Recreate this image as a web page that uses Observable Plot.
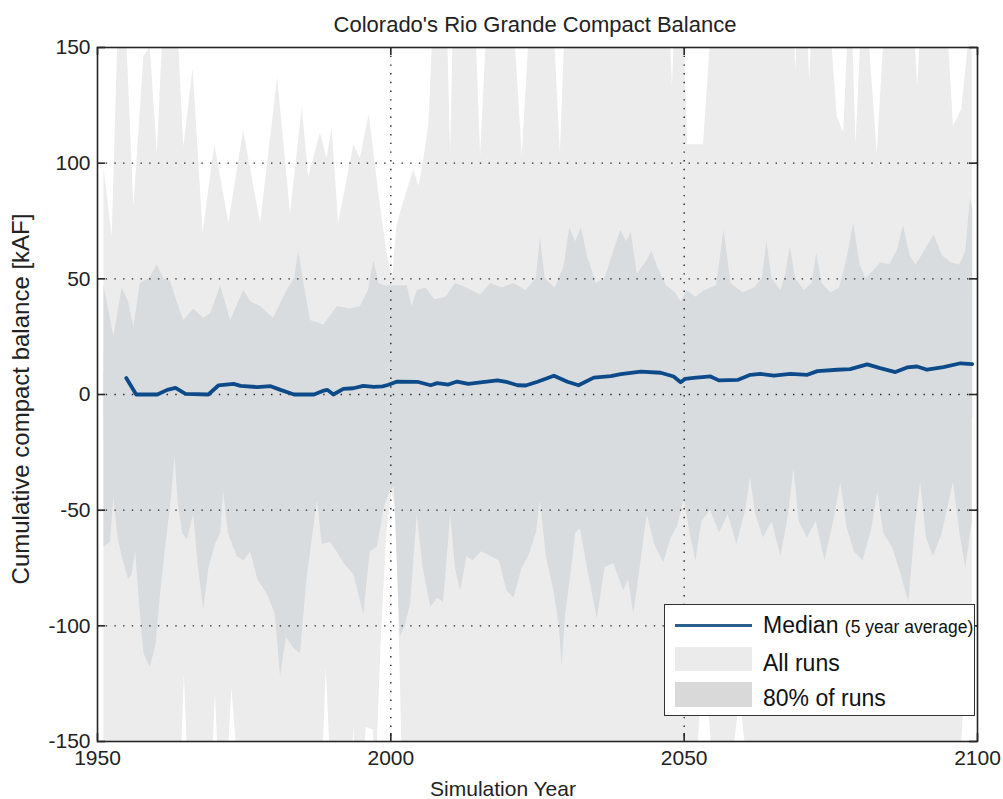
<!DOCTYPE html>
<html><head><meta charset="utf-8">
<script src="https://cdn.jsdelivr.net/npm/d3@7"></script>
<script src="https://cdn.jsdelivr.net/npm/@observablehq/plot@0.6"></script>
<style>
body{margin:0;background:#fff;font-family:"Liberation Sans",Arial,sans-serif;}
#wrap{position:relative;width:1003px;height:799px;overflow:hidden;}
#wrap svg{position:absolute;left:0;top:0;}
.t{position:absolute;color:#222;white-space:nowrap;line-height:1;}
#legend{position:absolute;left:664px;top:604px;width:309px;height:110px;border:1.5px solid #333;background:#fff;}
.sw{position:absolute;left:10px;width:77px;}
.lt{position:absolute;left:98px;font-size:23px;color:#111;white-space:nowrap;line-height:1;}
</style></head><body><div id="wrap"></div>
<script>
// ---- data ----
const xTicks = [1950, 2000, 2050, 2100];
const yTicks = [-150, -100, -50, 0, 50, 100, 150];
const gridX = [2000, 2050];
const gridY = [-100, -50, 0, 50, 100];

// upper edge of "All runs" (values above 150 are clipped by the axis)
const allMax = [[1951.1,98],[1952.5,68],[1953.6,165],[1954.8,165],[1956.2,81],[1957.9,146],[1959.0,150],[1960.2,104],[1961.3,165],[1963.6,165],[1964.7,107],[1966.3,141],[1968.0,70],[1970.0,108],[1972.4,74],[1974.9,114],[1977.8,74],[1980.7,137],[1982.9,78],[1984.9,124],[1986.0,94],[1988.0,113],[1989.1,102],[1990.0,115],[1991.1,74],[1993.7,108],[1994.8,102],[1996.3,121],[1998.2,82],[1999.3,62],[2000.3,50],[2001.0,72],[2001.8,80],[2003.9,97],[2004.8,90],[2005.6,101],[2006.5,117],[2007.3,165],[2009.6,165],[2010.2,103],[2010.7,165],[2014.4,165],[2015.3,103],[2016.5,165],[2020.9,165],[2022.4,103],[2023.8,165],[2027.7,165],[2028.9,104],[2029.8,165],[2047.5,165],[2048.0,133],[2048.5,165],[2049.9,165],[2050.6,108],[2053.3,108],[2054.8,165],[2068.7,165],[2069.0,139],[2069.4,165],[2070.9,165],[2071.4,136],[2071.9,165],[2074.9,165],[2075.5,140],[2076.1,120],[2077.2,113],[2078.1,165],[2078.6,165],[2079.3,108],[2080.3,165],[2081.2,165],[2082.9,104],[2084.3,165],[2089.1,165],[2089.8,133],[2090.5,165],[2094.8,165],[2095.9,116],[2097.3,123],[2098.4,150],[2099.1,165]];

// lower edge of "All runs"
const allMin = [[1951.1,-165],[1964.2,-165],[1964.8,-121],[1965.5,-165],[1969.5,-165],[1970.1,-129],[1970.7,-165],[1972.1,-165],[1972.9,-127],[1974.1,-165],[1988.3,-165],[1989.0,-118],[1989.8,-165],[1993.3,-165],[1993.7,-144],[1994.1,-165],[1995.3,-165],[1995.8,-144],[1997.0,-145],[1997.5,-165],[1998.3,-110],[1999.3,-60],[2000.2,-42],[2000.9,-50],[2001.5,-110],[2002.0,-165],[2052.0,-165],[2053.5,-110],[2055.0,-165],[2058.0,-165],[2059.5,-130],[2061.0,-165],[2097.0,-165],[2098.3,-105],[2099.1,-140]];

// upper edge of "80% of runs"
const p90 = [[1951.1,47],[1952.8,25],[1954.2,46],[1955.3,40],[1956.2,29],[1957.3,48],[1958.8,50],[1960.2,56],[1961.3,50],[1962.4,49],[1963.6,40],[1964.7,32],[1966.4,37],[1968.1,33],[1969.3,35],[1971.0,47],[1972.7,32],[1974.9,45],[1976.2,40],[1977.8,38],[1980.0,33],[1982.3,45],[1983.6,50],[1984.3,62],[1985.2,48],[1986.3,32],[1988.6,30],[1990.9,38],[1993.1,37],[1994.8,38],[1996.2,45],[1997.1,58],[1998.0,48],[1998.8,47],[2000.5,47],[2002.8,47],[2003.6,38],[2004.5,45],[2006.0,46],[2007.5,41],[2009.4,42],[2011.0,48],[2013.0,46],[2015.3,43],[2017.0,48],[2019.0,46],[2021.0,48],[2023.0,45],[2024.8,50],[2025.5,68],[2026.3,50],[2028.0,46],[2029.5,55],[2030.5,72],[2031.5,66],[2032.5,72],[2033.5,60],[2035.0,48],[2036.5,50],[2038.0,62],[2039.2,71],[2040.2,66],[2041.0,70],[2042.0,52],[2043.7,58],[2044.5,62],[2045.5,55],[2047.0,47],[2048.5,44],[2049.5,40],[2050.5,45],[2052.0,42],[2053.5,45],[2055.5,47],[2056.8,71],[2058.0,48],[2060.0,44],[2062.0,46],[2063.3,50],[2064.1,66],[2065.0,50],[2066.5,45],[2067.3,52],[2068.1,64],[2069.0,50],[2070.5,45],[2071.8,48],[2072.6,61],[2073.5,48],[2075.0,44],[2076.5,46],[2077.7,58],[2078.9,74],[2080.0,56],[2081.0,50],[2082.5,54],[2083.5,57],[2085.0,56],[2086.3,62],[2087.4,73],[2088.5,60],[2089.5,56],[2091.0,62],[2092.6,69],[2094.0,60],[2095.5,57],[2097.0,56],[2098.0,62],[2098.8,85],[2099.2,80]];

// lower edge of "80% of runs"
const p10 = [[1951.1,-66],[1952.2,-64],[1952.8,-45],[1953.5,-62],[1954.2,-70],[1955.3,-80],[1955.9,-78],[1956.5,-68],[1957.3,-95],[1957.9,-112],[1959.0,-118],[1960.0,-108],[1960.8,-85],[1961.9,-60],[1962.6,-45],[1963.2,-27],[1963.8,-48],[1964.5,-60],[1965.3,-63],[1966.4,-52],[1967.2,-75],[1968.1,-93],[1969.0,-75],[1970.1,-65],[1971.0,-60],[1971.5,-42],[1972.3,-60],[1973.8,-70],[1975.0,-72],[1976.1,-68],[1977.3,-80],[1978.9,-86],[1980.3,-95],[1981.2,-122],[1982.2,-105],[1983.5,-110],[1984.6,-112],[1985.7,-80],[1987.0,-55],[1987.5,-46],[1988.3,-65],[1989.7,-64],[1990.8,-68],[1992.0,-73],[1993.7,-78],[1995.4,-95],[1996.5,-68],[1997.7,-66],[1998.8,-50],[1999.8,-42],[2000.6,-40],[2001.6,-105],[2002.5,-100],[2003.4,-90],[2004.5,-52],[2005.5,-75],[2006.8,-92],[2008.0,-88],[2009.0,-90],[2010.2,-52],[2011.0,-75],[2011.9,-85],[2013.0,-70],[2014.0,-72],[2015.5,-68],[2017.0,-70],[2018.5,-72],[2019.8,-85],[2021.0,-88],[2022.4,-75],[2023.5,-70],[2024.8,-60],[2025.5,-46],[2026.5,-70],[2027.8,-85],[2028.7,-100],[2029.2,-118],[2029.8,-95],[2030.7,-78],[2031.5,-60],[2032.3,-58],[2033.5,-75],[2035.2,-97],[2036.5,-75],[2038.0,-73],[2039.7,-85],[2040.5,-80],[2041.4,-95],[2042.5,-75],[2043.7,-52],[2045.0,-65],[2046.5,-73],[2047.8,-62],[2048.9,-57],[2050.0,-45],[2051.0,-60],[2052.0,-72],[2053.0,-55],[2054.5,-50],[2056.0,-60],[2057.5,-52],[2059.0,-65],[2060.5,-50],[2061.3,-36],[2062.2,-52],[2063.5,-62],[2065.0,-55],[2066.5,-70],[2067.8,-52],[2068.7,-32],[2069.6,-55],[2071.0,-62],[2072.5,-55],[2074.0,-72],[2075.5,-55],[2076.7,-38],[2077.8,-58],[2079.0,-68],[2080.5,-72],[2082.0,-58],[2083.0,-42],[2084.0,-60],[2085.5,-66],[2087.0,-78],[2088.3,-90],[2089.3,-60],[2090.3,-38],[2091.3,-62],[2092.5,-70],[2094.0,-60],[2095.9,-38],[2097.0,-60],[2098.0,-75],[2099.1,-55]];

// median (5 year average)
const median = [[1954.9,7.1],[1956.6,0],[1960.2,0],[1961.9,2],[1963.3,2.9],[1965.0,0.3],[1968.9,0],[1970.6,3.9],[1973.2,4.6],[1974.4,3.7],[1977.2,3.2],[1979.5,3.6],[1981.2,2],[1983.5,0],[1986.9,0],[1988.6,1.7],[1989.2,2],[1990.2,0],[1991.9,2.4],[1993.6,2.7],[1995.3,3.7],[1997.1,3.3],[1998.6,3.5],[1999.6,4.2],[2001.1,5.6],[2004.5,5.5],[2006.8,4],[2007.9,4.9],[2009.8,4.3],[2011.3,5.6],[2013.2,4.6],[2015.3,5.2],[2018.2,6.1],[2019.9,5.3],[2021.6,4],[2023.0,3.9],[2025.0,5.5],[2027.8,8.1],[2030.1,5.5],[2032.0,4],[2034.6,7.3],[2037.5,7.9],[2039.2,8.8],[2042.6,9.9],[2046.0,9.4],[2048.2,7.8],[2049.4,5.3],[2050.2,6.8],[2051.6,7.2],[2054.5,7.8],[2055.9,6.1],[2059.1,6.3],[2061.3,8.5],[2063.0,8.9],[2065.3,8.2],[2068.1,8.9],[2071.0,8.5],[2072.7,10.1],[2076.1,10.7],[2078.3,11],[2081.2,13],[2083.4,11.4],[2086.0,9.7],[2088.0,11.7],[2089.7,12.1],[2091.4,10.7],[2094.2,11.8],[2097.1,13.5],[2099.1,13.1]];

const titleText = "Colorado's Rio Grande Compact Balance";
const xLabel = "Simulation Year";
const yLabel = "Cumulative compact balance [kAF]";
const legendItems = ["Median", "(5 year average)", "All runs", "80% of runs"];

// ---- styles ----
const C_ALL = "#ececec", C_80 = "#d9dcdf", C_MED = "#0d4a8a", C_AX = "#262626";
const W = 1003, H = 799, ML = 97, MR = 26, MT = 47, MB = 58;
const PW = W - ML - MR, PH = H - MT - MB, TK = 8;
const X = d => d[0], Y = d => d[1];

const plot = Plot.plot({
  width: W, height: H,
  marginLeft: ML, marginRight: MR, marginTop: MT, marginBottom: MB,
  style: {fontFamily: '"Liberation Sans", Arial, sans-serif', fontSize: "21px", color: "#222", background: "transparent", overflow: "visible"},
  x: {domain: [1950, 2100]},
  y: {domain: [-150, 150]},
  marks: [
    Plot.areaY(allMax, {x: X, y1: -20, y2: Y, fill: C_ALL, clip: true}),
    Plot.areaY(allMin, {x: X, y1: 20, y2: Y, fill: C_ALL, clip: true}),
    Plot.areaY(p90, {x: X, y1: -10, y2: Y, fill: C_80, clip: true}),
    Plot.areaY(p10, {x: X, y1: 10, y2: Y, fill: C_80, clip: true}),
    Plot.ruleX(gridX, {x: d => d, stroke: C_AX, strokeWidth: 1.4, strokeDasharray: "1.4,7.3"}),
    Plot.ruleY(gridY, {y: d => d, stroke: C_AX, strokeWidth: 1.4, strokeDasharray: "1.4,7.3"}),
    Plot.line(median, {x: X, y: Y, stroke: C_MED, strokeWidth: 3.8, strokeLinejoin: "round"}),
    Plot.tickX(xTicks, {x: d => d, insetTop: PH - TK, stroke: C_AX, strokeWidth: 1.6}),
    Plot.tickX(xTicks, {x: d => d, insetBottom: PH - TK, stroke: C_AX, strokeWidth: 1.6}),
    Plot.tickY(yTicks, {y: d => d, insetRight: PW - TK, stroke: C_AX, strokeWidth: 1.6}),
    Plot.tickY(yTicks, {y: d => d, insetLeft: PW - TK, stroke: C_AX, strokeWidth: 1.6}),
    Plot.frame({stroke: C_AX, strokeWidth: 1.6}),
    Plot.axisX({ticks: xTicks, tickSize: 0, tickPadding: 9, tickFormat: d => String(d), label: null}),
    Plot.axisY({ticks: yTicks, tickSize: 0, tickPadding: 7, tickFormat: d => String(d), label: null})
  ]
});

const wrap = document.getElementById("wrap");
wrap.appendChild(plot);

function addText(txt, css) {
  const d = document.createElement("div");
  d.className = "t";
  d.textContent = txt;
  Object.assign(d.style, css);
  wrap.appendChild(d);
  return d;
}
addText(titleText, {left: "535px", top: "14px", fontSize: "22px", transform: "translateX(-50%)"});
addText(xLabel, {left: "503px", top: "778px", fontSize: "21px", transform: "translateX(-50%)"});
addText(yLabel, {left: "21px", top: "399px", fontSize: "24px", transform: "translate(-50%,-50%) rotate(-90deg)"});

// legend
const lg = document.createElement("div");
lg.id = "legend";
lg.innerHTML = `
  <div class="sw" style="top:19px;height:3px;background:#2c5d8f"></div>
  <div class="lt" style="top:9px">${legendItems[0]} <span style="font-size:17.5px">${legendItems[1]}</span></div>
  <div class="sw" style="top:42px;height:24px;background:#ebebeb"></div>
  <div class="lt" style="top:47px">${legendItems[2]}</div>
  <div class="sw" style="top:77px;height:25px;background:#d9d9d9"></div>
  <div class="lt" style="top:82px">${legendItems[3]}</div>`;
wrap.appendChild(lg);
</script></body></html>
